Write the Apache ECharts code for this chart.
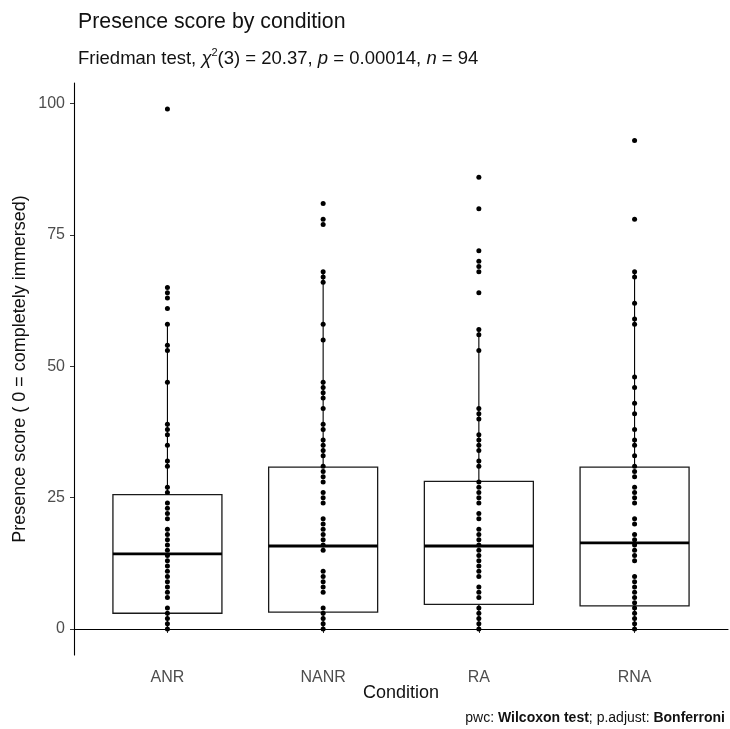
<!DOCTYPE html>
<html>
<head>
<meta charset="utf-8">
<script src="https://cdn.jsdelivr.net/npm/echarts@6/dist/echarts.min.js"></script>
<style>
  html, body { margin: 0; padding: 0; background: #ffffff; }
  #chart { width: 730px; height: 729px; }
</style>
</head>
<body>
<div id="chart"></div>
<script>
// Conditions on the x axis
const conditions = ['ANR', 'NANR', 'RA', 'RNA'];

// Box statistics per condition (whisker ends, quartiles, median)
const whiskerLow = [0, 0, 0, 0];
const lowerQuartile = [3.0, 3.2, 4.7, 4.4];
const medianScore = [14.3, 15.8, 15.8, 16.4];
const upperQuartile = [25.6, 30.8, 28.1, 30.8];
const whiskerHigh = [58, 68, 57, 68];

// Individual presence scores (distinct values per condition)
const scoresANR = [99, 65, 64, 63, 61, 58, 54, 53, 47, 39, 38, 37, 35, 32, 31, 27, 26, 24, 23, 22, 21,
  19, 18, 17, 16, 15, 14, 13, 12, 11, 10, 9, 8, 7, 6, 4, 3, 2, 1, 0];
const scoresNANR = [81, 78, 77, 68, 67, 66, 58, 55, 47, 46, 45, 44, 42, 39, 38, 36, 35, 34, 33, 31, 30, 29, 28,
  26, 25, 24, 21, 20, 19, 18, 17, 16, 15, 11, 10, 9, 8, 7, 4, 3, 2, 1, 0];
const scoresRA = [86, 80, 72, 70, 69, 68, 64, 57, 56, 53, 42, 41, 40, 37, 36, 35, 34, 32, 31, 28, 27, 26, 25, 24,
  22, 21, 19, 18, 17, 16, 15, 14, 13, 12, 11, 10, 8, 7, 6, 4, 3, 2, 1, 0];
const scoresRNA = [93, 78, 68, 67, 62, 59, 58, 48, 46, 43, 41, 38, 36, 35, 33, 31, 30, 29, 27, 26, 25, 24,
  21, 20, 18, 17, 16, 15, 14, 13, 10, 9, 8, 7, 6, 5, 4, 3, 2, 1, 0];

// Tick labels
const yTicks = [0, 25, 50, 75, 100];
const xTicks = [1, 2, 3, 4];

const FONT = '"Liberation Sans", Arial, Helvetica, sans-serif';
const BOX_HALF = 0.35; // half box width, in category units

const boxData = conditions.map((c, i) => [i + 1, whiskerLow[i], lowerQuartile[i], medianScore[i], upperQuartile[i], whiskerHigh[i]]);
const pointData = [];
[scoresANR, scoresNANR, scoresRA, scoresRNA].forEach((arr, i) => {
  arr.forEach(v => pointData.push([i + 1, v]));
});

function renderBox(params, api) {
  const x = api.value(0);
  const lo = api.coord([x, api.value(1)]);
  const q1L = api.coord([x - BOX_HALF, api.value(2)]);
  const q1R = api.coord([x + BOX_HALF, api.value(2)]);
  const medL = api.coord([x - BOX_HALF, api.value(3)]);
  const medR = api.coord([x + BOX_HALF, api.value(3)]);
  const q3L = api.coord([x - BOX_HALF, api.value(4)]);
  const hi = api.coord([x, api.value(5)]);
  return {
    type: 'group',
    children: [
      { type: 'line', shape: { x1: lo[0], y1: lo[1], x2: lo[0], y2: q1L[1] }, style: { stroke: '#000', lineWidth: 1.1 } },
      { type: 'line', shape: { x1: hi[0], y1: hi[1], x2: hi[0], y2: q3L[1] }, style: { stroke: '#000', lineWidth: 1.1 } },
      { type: 'rect', shape: { x: q3L[0], y: q3L[1], width: q1R[0] - q3L[0], height: q1L[1] - q3L[1] },
        style: { fill: '#ffffff', stroke: '#1a1a1a', lineWidth: 1.3 } },
      { type: 'line', shape: { x1: medL[0], y1: medL[1], x2: medR[0], y2: medR[1] }, style: { stroke: '#000', lineWidth: 2.8 } }
    ]
  };
}

const chart = echarts.init(document.getElementById('chart'), null, { renderer: 'canvas' });

chart.setOption({
  backgroundColor: '#ffffff',
  animation: false,
  textStyle: { fontFamily: FONT },
  title: {
    left: 73,
    top: 7,
    itemGap: 14,
    text: 'Presence score by condition',
    textStyle: { fontFamily: FONT, fontSize: 21.3, fontWeight: 'normal', color: '#111' },
    subtext: 'Friedman test, {i|χ}{sup|2}(3) = 20.37, {i|p} = 0.00014, {i|n} = 94',
    subtextStyle: {
      fontFamily: FONT, fontSize: 18.5, color: '#111', lineHeight: 24,
      rich: {
        i: { fontFamily: FONT, fontSize: 18.5, fontStyle: 'italic', color: '#111' },
        sup: { fontFamily: FONT, fontSize: 11, color: '#111', verticalAlign: 'top', lineHeight: 11 }
      }
    }
  },
  grid: { left: 74, right: 2, top: 83, bottom: 74, containLabel: false },
  xAxis: {
    type: 'value',
    min: 0.4,
    max: 4.6,
    name: 'Condition',
    nameLocation: 'middle',
    nameGap: 29,
    nameMoveOverlap: false,
    nameTextStyle: { fontFamily: FONT, fontSize: 18, color: '#111' },
    axisLine: { show: true, lineStyle: { color: '#000', width: 1.1 } },
    axisTick: { show: true, customValues: xTicks, length: 4, lineStyle: { color: '#333' } },
    axisLabel: {
      customValues: xTicks,
      formatter: v => conditions[Math.round(v) - 1],
      fontFamily: FONT, fontSize: 16, color: '#4d4d4d', margin: 15
    },
    splitLine: { show: false }
  },
  yAxis: {
    type: 'value',
    min: -4.95,
    max: 103.95,
    name: 'Presence score ( 0 = completely immersed)',
    nameLocation: 'middle',
    nameGap: 45,
    nameMoveOverlap: false,
    nameRotate: 90,
    nameTextStyle: { fontFamily: FONT, fontSize: 18, color: '#111' },
    axisLine: { show: true, lineStyle: { color: '#000', width: 1.1 } },
    axisTick: { show: true, customValues: yTicks, length: 4, lineStyle: { color: '#333' } },
    axisLabel: {
      customValues: yTicks,
      fontFamily: FONT, fontSize: 16, color: '#4d4d4d', margin: 9
    },
    splitLine: { show: false }
  },
  series: [
    {
      type: 'custom',
      name: 'box',
      renderItem: renderBox,
      encode: { x: 0, y: [1, 2, 3, 4, 5] },
      data: boxData,
      z: 2,
      silent: true
    },
    {
      type: 'scatter',
      name: 'scores',
      data: pointData,
      symbol: 'circle',
      symbolSize: 5,
      itemStyle: { color: '#000', opacity: 1 },
      z: 3,
      silent: true
    }
  ],
  graphic: [
    {
      type: 'text',
      right: 5,
      bottom: 4,
      style: {
        text: 'pwc: {b|Wilcoxon test}; p.adjust: {b|Bonferroni}',
        fontFamily: FONT,
        fontSize: 14,
        fill: '#111',
        rich: { b: { fontFamily: FONT, fontSize: 14, fontWeight: 'bold', fill: '#111' } }
      }
    }
  ]
});
</script>
</body>
</html>
